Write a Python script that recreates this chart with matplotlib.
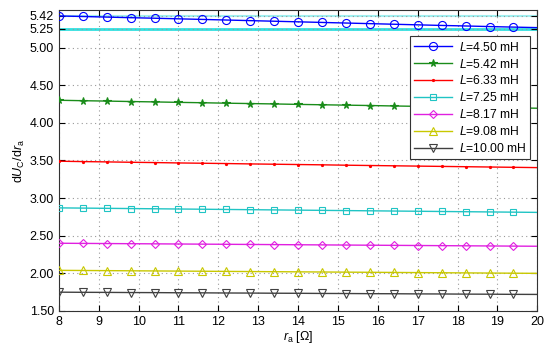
import matplotlib.pyplot as plt

plt.rcParams['font.family'] = ['Liberation Sans', 'DejaVu Sans']
plt.rcParams['mathtext.fontset'] = 'custom'
plt.rcParams['mathtext.rm'] = 'Liberation Sans'
plt.rcParams['mathtext.it'] = 'Liberation Sans:italic'

# r_a values (Ohm)
ra = [8.0, 8.6, 9.2, 9.8, 10.4, 11.0, 11.6, 12.2, 12.8, 13.4, 14.0,
      14.6, 15.2, 15.8, 16.4, 17.0, 17.6, 18.2, 18.8, 19.4, 20.0]

labels = ['4.50', '5.42', '6.33', '7.25', '8.17', '9.08', '10.00']

u_450 = [5.420, 5.413, 5.405, 5.397, 5.390, 5.382, 5.374, 5.366, 5.358, 5.350, 5.342,
         5.334, 5.326, 5.318, 5.310, 5.302, 5.294, 5.287, 5.279, 5.272, 5.265]
u_542 = [4.300, 4.294, 4.289, 4.283, 4.278, 4.272, 4.267, 4.261, 4.256, 4.251, 4.245,
         4.240, 4.235, 4.230, 4.224, 4.219, 4.214, 4.209, 4.204, 4.199, 4.194]
u_633 = [3.490, 3.485, 3.481, 3.476, 3.472, 3.467, 3.463, 3.459, 3.454, 3.450, 3.446,
         3.442, 3.437, 3.433, 3.429, 3.425, 3.421, 3.417, 3.413, 3.409, 3.405]
u_725 = [2.870, 2.867, 2.864, 2.861, 2.858, 2.855, 2.852, 2.849, 2.846, 2.843, 2.840,
         2.837, 2.834, 2.831, 2.828, 2.825, 2.822, 2.819, 2.816, 2.813, 2.810]
u_817 = [2.400, 2.398, 2.396, 2.394, 2.392, 2.390, 2.388, 2.386, 2.384, 2.382, 2.380,
         2.378, 2.376, 2.374, 2.372, 2.370, 2.368, 2.366, 2.364, 2.362, 2.360]
u_908 = [2.040, 2.038, 2.036, 2.034, 2.032, 2.030, 2.028, 2.026, 2.024, 2.022, 2.020,
         2.018, 2.016, 2.014, 2.012, 2.010, 2.008, 2.006, 2.004, 2.002, 2.000]
u_1000 = [1.750, 1.748, 1.747, 1.745, 1.744, 1.742, 1.741, 1.739, 1.738, 1.736, 1.735,
          1.733, 1.732, 1.730, 1.729, 1.727, 1.726, 1.724, 1.723, 1.721, 1.720]

series = [u_450, u_542, u_633, u_725, u_817, u_908, u_1000]
colors = ['#0000ff', '#1a8c1a', '#ff0000', '#20c4c4', '#e020e0', '#c8c800', '#404040']
markers = ['o', '*', '.', 's', 'D', '^', 'v']
msizes = [5.8, 5.5, 3, 4.5, 4.5, 5.8, 5.8]

yticks = [1.5, 2.0, 2.5, 3.0, 3.5, 4.0, 4.5, 5.0, 5.25, 5.42]

fig = plt.figure(figsize=(5.5, 3.55), dpi=100)
ax = fig.add_axes([0.107, 0.124, 0.870, 0.848])

ax.axhline(5.42, color='#a0f0f0', lw=1.5, zorder=1)
ax.axhline(5.25, color='#30e0e0', lw=2, zorder=1)

for vals, lab, c, m, ms in zip(series, labels, colors, markers, msizes):
    ax.plot(ra, vals, color=c, lw=1, marker=m, ms=ms, markevery=slice(0, 20),
            mfc='none' if m not in ('*', '.') else c, mec=c, mew=0.8,
            label='$L$=' + lab + ' mH', zorder=3)

ax.set_xlim(8, 20)
ax.set_ylim(1.5, 5.5)
ax.set_xticks(range(8, 21))
ax.set_yticks(yticks)
ax.set_yticklabels(['%.2f' % t for t in yticks])
ax.grid(True, linestyle=(0, (1, 3)), color='#999999', lw=0.8)
ax.tick_params(direction='in', top=True, right=True, labelsize=9, length=4)
for s in ax.spines.values():
    s.set_color('#333333')

ax.set_xlabel('$r_\\mathrm{a}$ [Ω]', fontsize=9, labelpad=1)
ax.set_ylabel('d$U_\\mathrm{C}$/d$r_\\mathrm{a}$', fontsize=9, labelpad=2)

leg = ax.legend(loc='upper right', bbox_to_anchor=(0.99, 0.92), fontsize=8.7,
                fancybox=False, framealpha=1, edgecolor='#333333',
                handlelength=3.2, handletextpad=0.5, borderpad=0.35,
                labelspacing=0.32, borderaxespad=0.2)
leg.get_frame().set_linewidth(0.8)

fig.savefig('out.png', dpi=100)
